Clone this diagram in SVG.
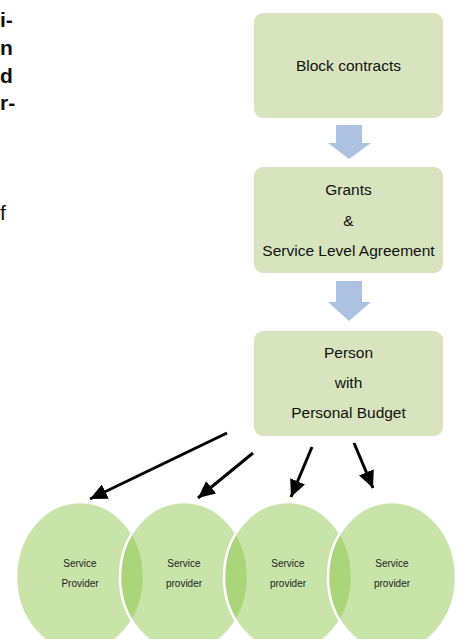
<svg xmlns="http://www.w3.org/2000/svg" width="462" height="639" viewBox="0 0 462 639">
  <style>
    .page { font-family: "Liberation Sans", Arial, sans-serif; font-size: 21px; fill: #111; }
    .box { fill: #d8e4bd; }
    .box-label { font-family: "Liberation Sans", Arial, sans-serif; font-size: 15.5px; fill: #111; text-anchor: middle; }
    .flow { fill: #adc1e1; }
    .provider { fill: #86c440; fill-opacity: 0.45; stroke: #ffffff; stroke-width: 2.5; }
    .provider-label { font-family: "Liberation Sans", Arial, sans-serif; font-size: 10px; fill: #222; text-anchor: middle; }
    .link { stroke: #000; stroke-width: 3; fill: none; marker-end: url(#head); }
  </style>
  <defs>
    <marker id="head" markerUnits="userSpaceOnUse" markerWidth="18" markerHeight="16" refX="17" refY="8" orient="auto">
      <path d="M0,0 L17,8 L0,16 z" fill="#000"/>
    </marker>
  </defs>

  <rect width="462" height="639" fill="#ffffff"/>

  <!-- fragments of the neighbouring page text column -->
  <g id="page-text" class="page">
    <text x="0" y="27" font-weight="bold">i-</text>
    <text x="0" y="55" font-weight="bold">n</text>
    <text x="0" y="83" font-weight="bold">d</text>
    <text x="0" y="110" font-weight="bold">r-</text>
    <text x="0" y="220">f</text>
  </g>

  <!-- funding stages -->
  <g id="block-contracts">
    <rect class="box" x="254" y="13" width="189" height="105" rx="9"/>
    <text class="box-label" x="348.5" y="71">Block contracts</text>
  </g>

  <g id="grants">
    <rect class="box" x="254" y="167" width="189" height="106" rx="9"/>
    <text class="box-label" x="348.5" y="195">Grants</text>
    <text class="box-label" x="348.5" y="226">&amp;</text>
    <text class="box-label" x="348.5" y="256">Service Level Agreement</text>
  </g>

  <g id="personal-budget">
    <rect class="box" x="254" y="331" width="189" height="105" rx="9"/>
    <text class="box-label" x="348.5" y="358">Person</text>
    <text class="box-label" x="348.5" y="388">with</text>
    <text class="box-label" x="348.5" y="418">Personal Budget</text>
  </g>

  <!-- service providers -->
  <g id="provider-1">
    <ellipse class="provider" cx="80" cy="577" rx="64" ry="75"/>
    <text class="provider-label" x="80" y="567">Service</text>
    <text class="provider-label" x="80" y="587">Provider</text>
  </g>
  <g id="provider-2">
    <ellipse class="provider" cx="184" cy="577" rx="64" ry="75"/>
    <text class="provider-label" x="184" y="567">Service</text>
    <text class="provider-label" x="184" y="587">provider</text>
  </g>
  <g id="provider-3">
    <ellipse class="provider" cx="288" cy="577" rx="64" ry="75"/>
    <text class="provider-label" x="288" y="567">Service</text>
    <text class="provider-label" x="288" y="587">provider</text>
  </g>
  <g id="provider-4">
    <ellipse class="provider" cx="392" cy="577" rx="64" ry="75"/>
    <text class="provider-label" x="392" y="567">Service</text>
    <text class="provider-label" x="392" y="587">provider</text>
  </g>

  <!-- connectors -->
  <g id="connectors">
    <path class="flow" d="M336,125 H362 V143 H371 L349,159 L328,143 H336 Z"/>
    <path class="flow" d="M336,281 H362 V302 H371 L349,321 L328,302 H336 Z"/>
    <line class="link" x1="227" y1="433" x2="90" y2="499"/>
    <line class="link" x1="253" y1="453" x2="198" y2="498"/>
    <line class="link" x1="312" y1="447" x2="291" y2="497"/>
    <line class="link" x1="354" y1="443" x2="373" y2="488"/>
  </g>
</svg>
